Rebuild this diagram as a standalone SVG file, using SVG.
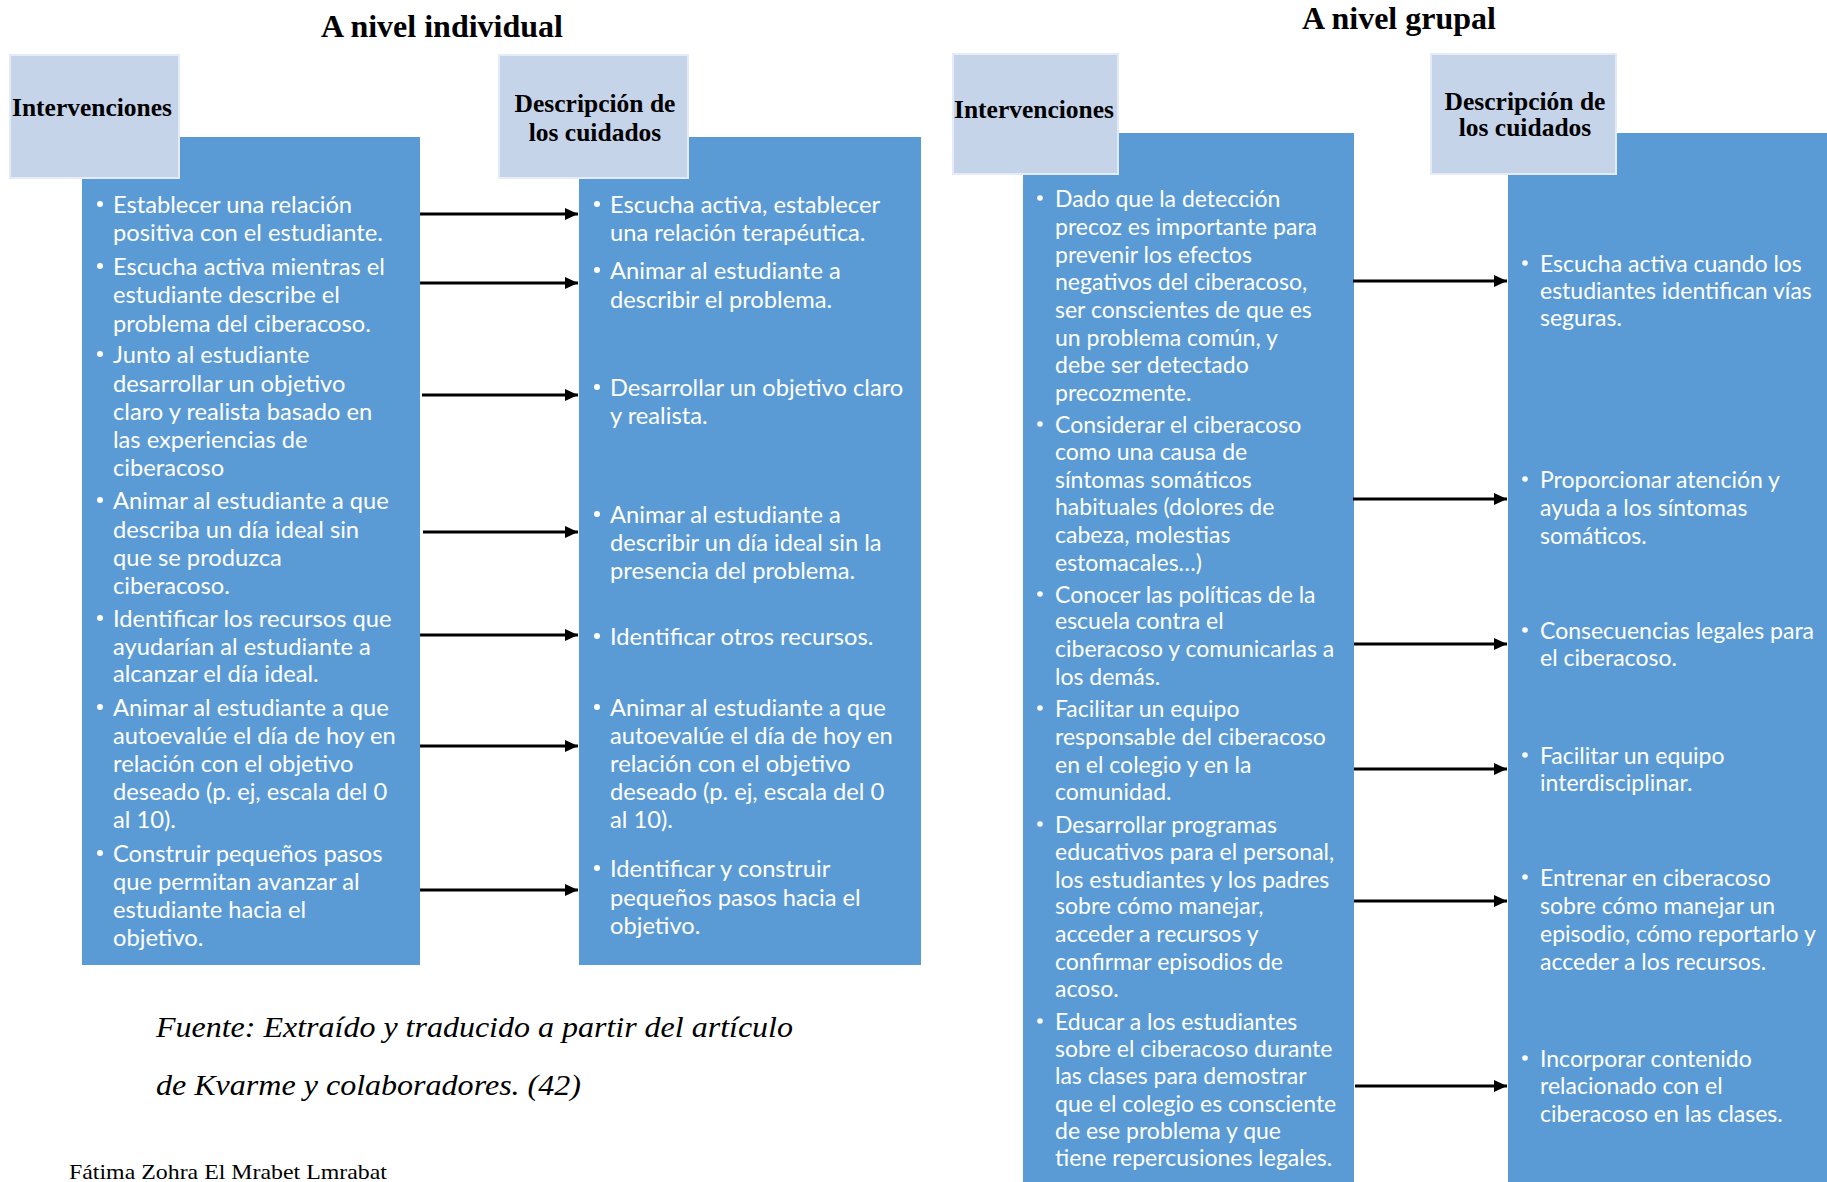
<svg xmlns="http://www.w3.org/2000/svg" width="1827" height="1182" viewBox="0 0 1827 1182">
<defs>
<style>
.bg{fill:#5B9BD5}
.hd{fill:#C6D4EA;stroke:#E4EBF6;stroke-width:2}
.ht{font-family:"Liberation Serif","Times New Roman",serif;font-weight:bold;font-size:25.5px;fill:#000;text-anchor:middle}
.tt{font-family:"Liberation Serif","Times New Roman",serif;font-weight:bold;font-size:32px;fill:#000;text-anchor:middle}
.bt{font-family:Lato,"Open Sans",sans-serif;font-size:23.7px;fill:#fff}
.bg2{font-family:Lato,"Open Sans",sans-serif;font-size:23px;fill:#fff}
.bu{fill:#fff}
.ar{stroke:#000;stroke-width:3.2;fill:none;marker-end:url(#ah)}
.src{font-family:"Liberation Serif","Times New Roman",serif;font-style:italic;font-size:30px;fill:#000}
.ft{font-family:"Liberation Serif","Times New Roman",serif;font-size:22px;fill:#000}
</style>
<marker id="ah" markerUnits="userSpaceOnUse" markerWidth="14" markerHeight="12" refX="13" refY="6" orient="auto">
<path d="M0,0 L13,6 L0,12 Z" fill="#000"/>
</marker>
</defs>
<rect width="1827" height="1182" fill="#fff"/>

<text class="tt" x="442" y="37">A nivel individual</text>
<text class="tt" x="1399" y="29">A nivel grupal</text>

<g id="ind-interv">
<rect class="bg" x="82" y="137" width="338" height="828"/>
<rect class="hd" x="10" y="55" width="169" height="123"/>
<text class="ht" x="92" y="116">Intervenciones</text>
<g class="bu">
<circle cx="100" cy="204" r="3"/><circle cx="100" cy="266" r="3"/><circle cx="100" cy="354" r="3"/><circle cx="100" cy="500" r="3"/><circle cx="100" cy="618" r="3"/><circle cx="100" cy="707" r="3"/><circle cx="100" cy="853" r="3"/>
</g>
<text class="bt">
<tspan x="113" y="213">Establecer una relación</tspan>
<tspan x="113" y="241">positiva con el estudiante.</tspan>
<tspan x="113" y="275">Escucha activa mientras el</tspan>
<tspan x="113" y="303">estudiante describe el</tspan>
<tspan x="113" y="332">problema del ciberacoso.</tspan>
<tspan x="113" y="363">Junto al estudiante</tspan>
<tspan x="113" y="392">desarrollar un objetivo</tspan>
<tspan x="113" y="420">claro y realista basado en</tspan>
<tspan x="113" y="448">las experiencias de</tspan>
<tspan x="113" y="476">ciberacoso</tspan>
<tspan x="113" y="509">Animar al estudiante a que</tspan>
<tspan x="113" y="538">describa un día ideal sin</tspan>
<tspan x="113" y="566">que se produzca</tspan>
<tspan x="113" y="594">ciberacoso.</tspan>
<tspan x="113" y="627">Identificar los recursos que</tspan>
<tspan x="113" y="655">ayudarían al estudiante a</tspan>
<tspan x="113" y="682">alcanzar el día ideal.</tspan>
<tspan x="113" y="716">Animar al estudiante a que</tspan>
<tspan x="113" y="744">autoevalúe el día de hoy en</tspan>
<tspan x="113" y="772">relación con el objetivo</tspan>
<tspan x="113" y="800">deseado (p. ej, escala del 0</tspan>
<tspan x="113" y="828">al 10).</tspan>
<tspan x="113" y="862">Construir pequeños pasos</tspan>
<tspan x="113" y="890">que permitan avanzar al</tspan>
<tspan x="113" y="918">estudiante hacia el</tspan>
<tspan x="113" y="946">objetivo.</tspan>
</text>
</g>

<g id="ind-desc">
<rect class="bg" x="579" y="137" width="342" height="828"/>
<rect class="hd" x="499" y="55" width="189" height="123"/>
<text class="ht" x="595" y="112">Descripción de</text>
<text class="ht" x="595" y="141">los cuidados</text>
<g class="bu">
<circle cx="597" cy="204" r="3"/><circle cx="597" cy="270" r="3"/><circle cx="597" cy="387" r="3"/><circle cx="597" cy="514" r="3"/><circle cx="597" cy="636" r="3"/><circle cx="597" cy="707" r="3"/><circle cx="597" cy="868" r="3"/>
</g>
<text class="bt">
<tspan x="610" y="213">Escucha activa, establecer</tspan>
<tspan x="610" y="241">una relación terapéutica.</tspan>
<tspan x="610" y="279">Animar al estudiante a</tspan>
<tspan x="610" y="308">describir el problema.</tspan>
<tspan x="610" y="396">Desarrollar un objetivo claro</tspan>
<tspan x="610" y="424">y realista.</tspan>
<tspan x="610" y="523">Animar al estudiante a</tspan>
<tspan x="610" y="551">describir un día ideal sin la</tspan>
<tspan x="610" y="579">presencia del problema.</tspan>
<tspan x="610" y="645">Identificar otros recursos.</tspan>
<tspan x="610" y="716">Animar al estudiante a que</tspan>
<tspan x="610" y="744">autoevalúe el día de hoy en</tspan>
<tspan x="610" y="772">relación con el objetivo</tspan>
<tspan x="610" y="800">deseado (p. ej, escala del 0</tspan>
<tspan x="610" y="828">al 10).</tspan>
<tspan x="610" y="877">Identificar y construir</tspan>
<tspan x="610" y="906">pequeños pasos hacia el</tspan>
<tspan x="610" y="934">objetivo.</tspan>
</text>
</g>

<g id="grp-interv">
<rect class="bg" x="1023" y="133" width="331" height="1049"/>
<rect class="hd" x="953" y="54" width="165" height="120"/>
<text class="ht" x="1034" y="118">Intervenciones</text>
<g class="bu">
<circle cx="1040" cy="198" r="2.8"/><circle cx="1040" cy="424" r="2.8"/><circle cx="1040" cy="594" r="2.8"/><circle cx="1040" cy="708" r="2.8"/><circle cx="1040" cy="824" r="2.8"/><circle cx="1040" cy="1021" r="2.8"/>
</g>
<text class="bg2">
<tspan x="1055" y="207">Dado que la detección</tspan>
<tspan x="1055" y="235">precoz es importante para</tspan>
<tspan x="1055" y="263">prevenir los efectos</tspan>
<tspan x="1055" y="290">negativos del ciberacoso,</tspan>
<tspan x="1055" y="318">ser conscientes de que es</tspan>
<tspan x="1055" y="346">un problema común, y</tspan>
<tspan x="1055" y="373">debe ser detectado</tspan>
<tspan x="1055" y="401">precozmente.</tspan>
<tspan x="1055" y="433">Considerar el ciberacoso</tspan>
<tspan x="1055" y="460">como una causa de</tspan>
<tspan x="1055" y="488">síntomas somáticos</tspan>
<tspan x="1055" y="515">habituales (dolores de</tspan>
<tspan x="1055" y="543">cabeza, molestias</tspan>
<tspan x="1055" y="571">estomacales…)</tspan>
<tspan x="1055" y="603">Conocer las políticas de la</tspan>
<tspan x="1055" y="629">escuela contra el</tspan>
<tspan x="1055" y="657">ciberacoso y comunicarlas a</tspan>
<tspan x="1055" y="685">los demás.</tspan>
<tspan x="1055" y="717">Facilitar un equipo</tspan>
<tspan x="1055" y="745">responsable del ciberacoso</tspan>
<tspan x="1055" y="773">en el colegio y en la</tspan>
<tspan x="1055" y="800">comunidad.</tspan>
<tspan x="1055" y="833">Desarrollar programas</tspan>
<tspan x="1055" y="860">educativos para el personal,</tspan>
<tspan x="1055" y="888">los estudiantes y los padres</tspan>
<tspan x="1055" y="914">sobre cómo manejar,</tspan>
<tspan x="1055" y="942">acceder a recursos y</tspan>
<tspan x="1055" y="970">confirmar episodios de</tspan>
<tspan x="1055" y="997">acoso.</tspan>
<tspan x="1055" y="1030">Educar a los estudiantes</tspan>
<tspan x="1055" y="1057">sobre el ciberacoso durante</tspan>
<tspan x="1055" y="1084">las clases para demostrar</tspan>
<tspan x="1055" y="1112">que el colegio es consciente</tspan>
<tspan x="1055" y="1139">de ese problema y que</tspan>
<tspan x="1055" y="1166">tiene repercusiones legales.</tspan>
</text>
</g>

<g id="grp-desc">
<rect class="bg" x="1508" y="133" width="319" height="1049"/>
<rect class="hd" x="1431" y="54" width="185" height="120"/>
<text class="ht" x="1525" y="110">Descripción de</text>
<text class="ht" x="1525" y="136">los cuidados</text>
<g class="bu">
<circle cx="1525" cy="263" r="2.8"/><circle cx="1525" cy="479" r="2.8"/><circle cx="1525" cy="630" r="2.8"/><circle cx="1525" cy="755" r="2.8"/><circle cx="1525" cy="877" r="2.8"/><circle cx="1525" cy="1058" r="2.8"/>
</g>
<text class="bg2">
<tspan x="1540" y="272">Escucha activa cuando los</tspan>
<tspan x="1540" y="299">estudiantes identifican vías</tspan>
<tspan x="1540" y="326">seguras.</tspan>
<tspan x="1540" y="488">Proporcionar atención y</tspan>
<tspan x="1540" y="516">ayuda a los síntomas</tspan>
<tspan x="1540" y="544">somáticos.</tspan>
<tspan x="1540" y="639">Consecuencias legales para</tspan>
<tspan x="1540" y="666">el ciberacoso.</tspan>
<tspan x="1540" y="764">Facilitar un equipo</tspan>
<tspan x="1540" y="791">interdisciplinar.</tspan>
<tspan x="1540" y="886">Entrenar en ciberacoso</tspan>
<tspan x="1540" y="914">sobre cómo manejar un</tspan>
<tspan x="1540" y="942">episodio, cómo reportarlo y</tspan>
<tspan x="1540" y="970">acceder a los recursos.</tspan>
<tspan x="1540" y="1067">Incorporar contenido</tspan>
<tspan x="1540" y="1094">relacionado con el</tspan>
<tspan x="1540" y="1122">ciberacoso en las clases.</tspan>
</text>
</g>

<g id="connectors">
<line class="ar" x1="420" y1="214" x2="578" y2="214"/>
<line class="ar" x1="420" y1="283" x2="578" y2="283"/>
<line class="ar" x1="422" y1="395" x2="578" y2="395"/>
<line class="ar" x1="423" y1="532" x2="578" y2="532"/>
<line class="ar" x1="420" y1="635" x2="578" y2="635"/>
<line class="ar" x1="420" y1="746" x2="578" y2="746"/>
<line class="ar" x1="420" y1="890" x2="578" y2="890"/>
<line class="ar" x1="1353" y1="281" x2="1507" y2="281"/>
<line class="ar" x1="1353" y1="499" x2="1507" y2="499"/>
<line class="ar" x1="1354" y1="644" x2="1507" y2="644"/>
<line class="ar" x1="1354" y1="769" x2="1507" y2="769"/>
<line class="ar" x1="1354" y1="901" x2="1507" y2="901"/>
<line class="ar" x1="1355" y1="1086" x2="1507" y2="1086"/>
</g>

<text class="src" x="156" y="1037" textLength="637" lengthAdjust="spacingAndGlyphs">Fuente: Extraído y traducido a partir del artículo</text>
<text class="src" x="156" y="1095" textLength="425" lengthAdjust="spacingAndGlyphs">de Kvarme y colaboradores. (42)</text>
<text class="ft" x="69" y="1179" textLength="318" lengthAdjust="spacingAndGlyphs">Fátima Zohra El Mrabet Lmrabat</text>
</svg>
